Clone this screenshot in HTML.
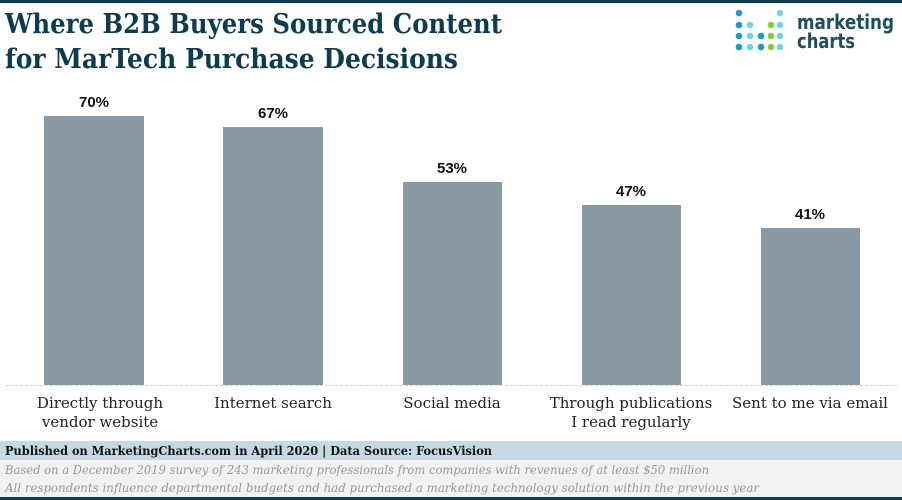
<!DOCTYPE html>
<html><head><meta charset="utf-8"><style>
html,body{margin:0;padding:0;background:#fff;}
svg{display:block;}
</style></head><body>
<svg width="902" height="500" viewBox="0 0 902 500" xmlns="http://www.w3.org/2000/svg">
<rect x="0" y="0" width="902" height="3" fill="#0d3b4f"/>
<g font-family="'DejaVu Serif','Liberation Serif',serif" font-weight="bold" fill="#0d3b4f" font-size="27">
<text x="5" y="33" textLength="497" lengthAdjust="spacingAndGlyphs">Where B2B Buyers Sourced Content</text>
<text x="5" y="68" textLength="453" lengthAdjust="spacingAndGlyphs">for MarTech Purchase Decisions</text>
</g>
<g>
<circle cx="739" cy="13" r="3.3" fill="#1a9ac9"/><circle cx="739" cy="25" r="3.3" fill="#1a9ac9"/><circle cx="739" cy="36" r="3.3" fill="#1a9ac9"/><circle cx="739" cy="47" r="3.3" fill="#1a9ac9"/>
<circle cx="750" cy="25" r="3.3" fill="#6ed8d8"/><circle cx="750" cy="36" r="3.3" fill="#6ed8d8"/><circle cx="750" cy="47" r="3.3" fill="#6ed8d8"/>
<circle cx="761" cy="36" r="3.3" fill="#1a9ac9"/><circle cx="761" cy="47" r="3.3" fill="#1a9ac9"/>
<circle cx="771" cy="25" r="3.3" fill="#8dc63f"/><circle cx="771" cy="36" r="3.3" fill="#8dc63f"/><circle cx="771" cy="47" r="3.3" fill="#8dc63f"/>
<circle cx="780" cy="13" r="3.3" fill="#6ed8d8"/><circle cx="780" cy="25" r="3.3" fill="#6ed8d8"/><circle cx="780" cy="36" r="3.3" fill="#6ed8d8"/><circle cx="780" cy="47" r="3.3" fill="#6ed8d8"/>
</g>
<g font-family="'DejaVu Sans','Liberation Sans',sans-serif" font-weight="bold" fill="#1f4e5f" font-size="20">
<text x="797" y="29" textLength="97" lengthAdjust="spacingAndGlyphs">marketing</text>
<text x="797" y="48" textLength="58" lengthAdjust="spacingAndGlyphs">charts</text>
</g>
<line x1="5" y1="385.5" x2="897" y2="385.5" stroke="#d5d5d5" stroke-dasharray="3,2"/>
<g fill="#8a9aa4">
<rect x="44" y="116" width="100" height="269"/>
<rect x="223" y="127" width="100" height="258"/>
<rect x="403" y="182" width="99" height="203"/>
<rect x="582" y="205" width="99" height="180"/>
<rect x="761" y="228" width="99" height="157"/>
</g>
<g font-family="'Liberation Sans',sans-serif" font-weight="bold" font-size="15" fill="#111" text-anchor="middle">
<text x="94" y="107">70%</text>
<text x="273" y="118">67%</text>
<text x="452" y="173">53%</text>
<text x="631" y="196">47%</text>
<text x="810" y="219">41%</text>
</g>
<g font-family="'DejaVu Serif','Liberation Serif',serif" font-size="15" fill="#222" text-anchor="middle">
<text x="100" y="408">Directly through</text>
<text x="100" y="427">vendor website</text>
<text x="273" y="408">Internet search</text>
<text x="452" y="408">Social media</text>
<text x="631" y="408">Through publications</text>
<text x="631" y="427">I read regularly</text>
<text x="810" y="408">Sent to me via email</text>
</g>
<rect x="0" y="441" width="902" height="19" fill="#c5d9e3"/>
<rect x="0" y="460" width="902" height="37" fill="#f2f2f2"/>
<rect x="0" y="497" width="902" height="3" fill="#0d3b4f"/>
<text x="5" y="455" font-family="'DejaVu Serif','Liberation Serif',serif" font-weight="bold" font-size="12.5" fill="#111" textLength="487" lengthAdjust="spacingAndGlyphs">Published on MarketingCharts.com in April 2020 | Data Source: FocusVision</text>
<g font-family="'DejaVu Serif','Liberation Serif',serif" font-style="italic" font-size="12" fill="#999">
<text x="5" y="474" textLength="704" lengthAdjust="spacingAndGlyphs">Based on a December 2019 survey of 243 marketing professionals from companies with revenues of at least $50 million</text>
<text x="5" y="492" textLength="754" lengthAdjust="spacingAndGlyphs">All respondents influence departmental budgets and had purchased a marketing technology solution within the previous year</text>
</g>
</svg>
</body></html>
